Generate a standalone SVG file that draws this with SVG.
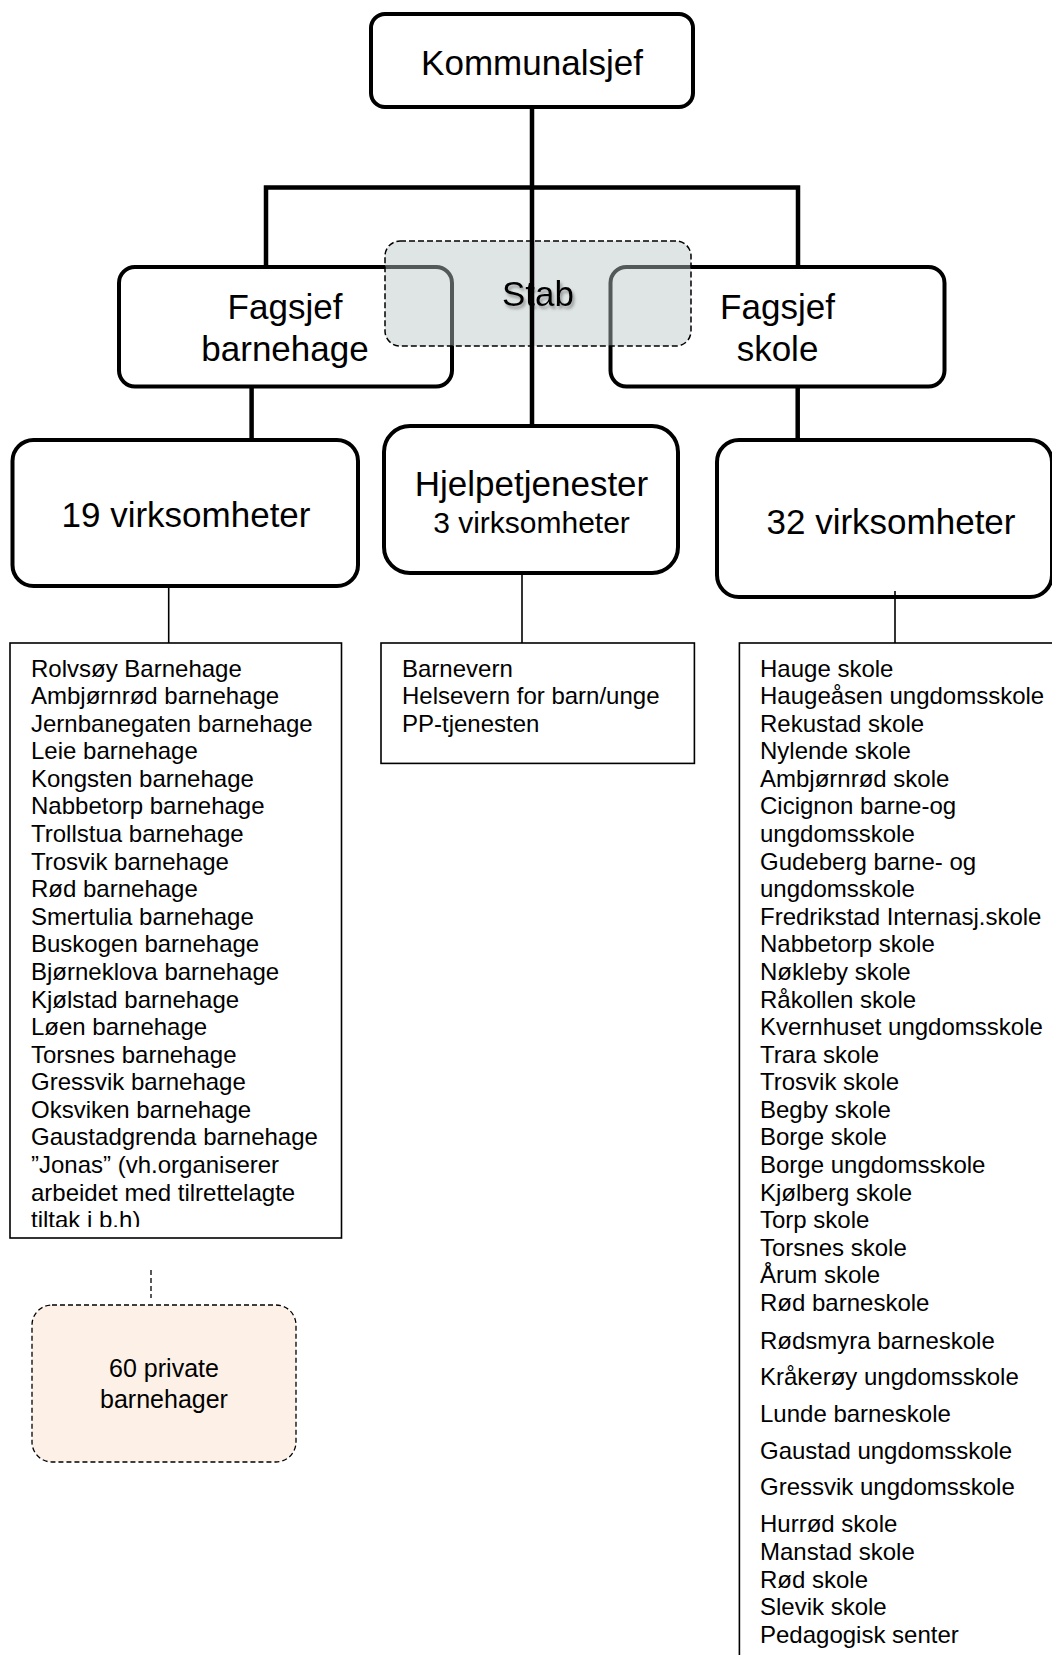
<svg xmlns="http://www.w3.org/2000/svg" width="1052" height="1655" viewBox="0 0 1052 1655">
  <defs>
    <style>
      text { font-family: "Liberation Sans", Arial, sans-serif; fill: #000; }
      .big { font-size: 35px; text-anchor: middle; }
      .sub { font-size: 30px; text-anchor: middle; }
      .list { font-size: 24px; }
      .priv { font-size: 25px; text-anchor: middle; }
      .box { fill: #fff; stroke: #000; stroke-width: 4; }
      .lbox { fill: #fff; stroke: #000; stroke-width: 1.6; }
      .thick { stroke: #000; stroke-width: 4.5; fill: none; }
      .thin { stroke: #000; stroke-width: 1.6; fill: none; }
      .dash { stroke: #000; stroke-width: 1.3; fill: none; stroke-dasharray: 5 3; }
    </style>
    <filter id="shadow" x="-20%" y="-30%" width="150%" height="170%">
      <feDropShadow dx="2" dy="3" stdDeviation="1.5" flood-color="#666" flood-opacity="0.6"/>
    </filter>
    <clipPath id="clipLeft">
      <rect x="10" y="643" width="332" height="584"/>
    </clipPath>
  </defs>

  <rect width="1052" height="1655" fill="#fff"/>

  <g id="kommunalsjef">
    <rect class="box" x="371" y="14" width="322" height="93" rx="14"/>
    <text class="big" x="532" y="75">Kommunalsjef</text>
  </g>

  <g id="fagsjef-barnehage">
    <rect class="box" x="119" y="267" width="333" height="119.5" rx="16"/>
    <text class="big" x="285" y="319">Fagsjef</text>
    <text class="big" x="285" y="361">barnehage</text>
  </g>

  <g id="fagsjef-skole">
    <rect class="box" x="610.5" y="267" width="334" height="119.5" rx="16"/>
    <text class="big" x="777.5" y="319">Fagsjef</text>
    <text class="big" x="777.5" y="361">skole</text>
  </g>

  <g id="stab">
    <rect x="385" y="241" width="306" height="105" rx="15" fill="#b9c5c5" fill-opacity="0.45" stroke="#000" stroke-width="1.5" stroke-dasharray="6 3"/>
    <text class="big" x="538" y="306" filter="url(#shadow)">Stab</text>
  </g>

  <g id="barnehage-19">
    <rect class="box" x="12.5" y="440" width="345.5" height="146" rx="21"/>
    <text class="big" x="186" y="527">19 virksomheter</text>
  </g>

  <g id="hjelpetjenester">
    <rect class="box" x="384" y="426" width="294" height="147" rx="26"/>
    <text class="big" x="531.5" y="496">Hjelpetjenester</text>
    <text class="sub" x="531.5" y="533">3 virksomheter</text>
  </g>

  <g id="skole-32">
    <rect class="box" x="717" y="440" width="335" height="157" rx="22"/>
    <text class="big" x="891" y="534">32 virksomheter</text>
  </g>

  <g id="connectors">
    <line class="thick" x1="532" y1="107" x2="532" y2="426"/>
    <polyline class="thick" points="266,267 266,187.5 798,187.5 798,267"/>
    <line class="thick" x1="251.6" y1="386.5" x2="251.6" y2="440"/>
    <line class="thick" x1="797.7" y1="386.5" x2="797.7" y2="440"/>
    <line class="thin" x1="168.7" y1="586" x2="168.7" y2="643"/>
    <line class="thin" x1="522" y1="573" x2="522" y2="643"/>
    <line class="thin" x1="895" y1="591" x2="895" y2="643"/>
    <line class="dash" x1="151" y1="1270" x2="151" y2="1298"/>
  </g>

  <g id="liste-barnehager">
    <rect class="lbox" x="10" y="643" width="331.5" height="595"/>
    <g clip-path="url(#clipLeft)">
      <text class="list" x="31" y="676.5">Rolvsøy Barnehage</text>
      <text class="list" x="31" y="704.1">Ambjørnrød barnehage</text>
      <text class="list" x="31" y="731.7">Jernbanegaten barnehage</text>
      <text class="list" x="31" y="759.2">Leie barnehage</text>
      <text class="list" x="31" y="786.8">Kongsten barnehage</text>
      <text class="list" x="31" y="814.4">Nabbetorp barnehage</text>
      <text class="list" x="31" y="842.0">Trollstua barnehage</text>
      <text class="list" x="31" y="869.6">Trosvik barnehage</text>
      <text class="list" x="31" y="897.1">Rød barnehage</text>
      <text class="list" x="31" y="924.7">Smertulia barnehage</text>
      <text class="list" x="31" y="952.3">Buskogen barnehage</text>
      <text class="list" x="31" y="979.9">Bjørneklova barnehage</text>
      <text class="list" x="31" y="1007.5">Kjølstad barnehage</text>
      <text class="list" x="31" y="1035.0">Løen barnehage</text>
      <text class="list" x="31" y="1062.6">Torsnes barnehage</text>
      <text class="list" x="31" y="1090.2">Gressvik barnehage</text>
      <text class="list" x="31" y="1117.8">Oksviken barnehage</text>
      <text class="list" x="31" y="1145.4">Gaustadgrenda barnehage</text>
      <text class="list" x="31" y="1172.9">”Jonas” (vh.organiserer</text>
      <text class="list" x="31" y="1200.5">arbeidet med tilrettelagte</text>
      <text class="list" x="31" y="1228.1">tiltak i b.h)</text>
    </g>
  </g>

  <g id="liste-hjelpetjenester">
    <rect class="lbox" x="381" y="643" width="313.4" height="120.4"/>
    <text class="list" x="402" y="676.5">Barnevern</text>
    <text class="list" x="402" y="704.1">Helsevern for barn/unge</text>
    <text class="list" x="402" y="731.7">PP-tjenesten</text>
  </g>

  <g id="liste-skoler">
    <rect class="lbox" x="739.4" y="643" width="330" height="1030"/>
    <text class="list" x="760" y="676.5">Hauge skole</text>
    <text class="list" x="760" y="704.1">Haugeåsen ungdomsskole</text>
    <text class="list" x="760" y="731.7">Rekustad skole</text>
    <text class="list" x="760" y="759.2">Nylende skole</text>
    <text class="list" x="760" y="786.8">Ambjørnrød skole</text>
    <text class="list" x="760" y="814.4">Cicignon barne-og</text>
    <text class="list" x="760" y="842.0">ungdomsskole</text>
    <text class="list" x="760" y="869.6">Gudeberg barne- og</text>
    <text class="list" x="760" y="897.1">ungdomsskole</text>
    <text class="list" x="760" y="924.7">Fredrikstad Internasj.skole</text>
    <text class="list" x="760" y="952.3">Nabbetorp skole</text>
    <text class="list" x="760" y="979.9">Nøkleby skole</text>
    <text class="list" x="760" y="1007.5">Råkollen skole</text>
    <text class="list" x="760" y="1035.0">Kvernhuset ungdomsskole</text>
    <text class="list" x="760" y="1062.6">Trara skole</text>
    <text class="list" x="760" y="1090.2">Trosvik skole</text>
    <text class="list" x="760" y="1117.8">Begby skole</text>
    <text class="list" x="760" y="1145.4">Borge skole</text>
    <text class="list" x="760" y="1172.9">Borge ungdomsskole</text>
    <text class="list" x="760" y="1200.5">Kjølberg skole</text>
    <text class="list" x="760" y="1228.1">Torp skole</text>
    <text class="list" x="760" y="1255.7">Torsnes skole</text>
    <text class="list" x="760" y="1283.3">Årum skole</text>
    <text class="list" x="760" y="1310.8">Rød barneskole</text>
    <text class="list" x="760" y="1348.5">Rødsmyra barneskole</text>
    <text class="list" x="760" y="1385.2">Kråkerøy ungdomsskole</text>
    <text class="list" x="760" y="1421.9">Lunde barneskole</text>
    <text class="list" x="760" y="1458.6">Gaustad ungdomsskole</text>
    <text class="list" x="760" y="1495.3">Gressvik ungdomsskole</text>
    <text class="list" x="760" y="1532.3">Hurrød skole</text>
    <text class="list" x="760" y="1559.9">Manstad skole</text>
    <text class="list" x="760" y="1587.5">Rød skole</text>
    <text class="list" x="760" y="1615.1">Slevik skole</text>
    <text class="list" x="760" y="1642.7">Pedagogisk senter</text>
  </g>

  <g id="private-barnehager">
    <rect x="32" y="1305" width="264" height="157" rx="20" fill="#fdf1e7" stroke="#000" stroke-width="1.3" stroke-dasharray="5 3"/>
    <text class="priv" x="164" y="1377">60 private</text>
    <text class="priv" x="164" y="1408">barnehager</text>
  </g>
</svg>
